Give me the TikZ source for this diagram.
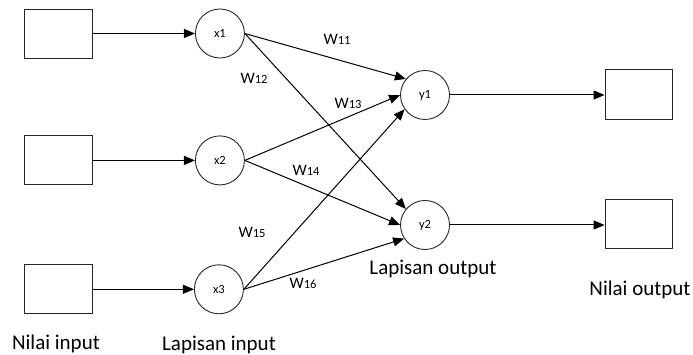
\documentclass[tikz,border=0pt]{standalone}
\usepackage{fontspec}
\setmainfont{Carlito}
\usepackage{tikz}
\usetikzlibrary{arrows.meta,positioning}
\tikzset{
  valbox/.style={draw=black!85,line width=0.9pt,minimum width=68pt,minimum height=49pt,inner sep=0pt},
  neuron/.style={draw=black!85,line width=0.9pt,circle,minimum size=49pt,inner sep=0pt,font=\fontsize{12.5}{13}\selectfont},
  wire/.style={-{Triangle[length=11pt,width=9pt]},line width=1pt},
  wlabel/.style={inner sep=0pt},
  layertext/.style={font=\fontsize{21}{24}\selectfont,inner sep=0pt,anchor=base}
}
\newcommand{\wlab}[1]{{\fontsize{16}{16}\selectfont W}{\fontsize{12.5}{13}\selectfont #1}}

\begin{document}
\begin{tikzpicture}[x=1pt,y=1pt]
  \useasboundingbox (0,0) rectangle (693,-355);

  % --- Input values and input layer ---
  \node[valbox] (in1) at (58,-33.5) {};
  \node[valbox,below=77pt of in1] (in2) {};
  \node[valbox,below=79pt of in2] (in3) {};

  \node[neuron,right=102.5pt of in1] (x1) {x1};
  \node[neuron,right=102.5pt of in2] (x2) {x2};
  \node[neuron,right=101.5pt of in3] (x3) {x3};

  % --- Output layer and output values ---
  \node[neuron] (y1) at (425,-95) {y1};
  \node[neuron] (y2) at (425,-225) {y2};

  \node[valbox,minimum width=67pt,minimum height=50pt] (out1) at (638.5,-94) {};
  \node[valbox,minimum width=67pt,minimum height=49pt] (out2) at (638.5,-223.5) {};

  % --- Inputs into the first layer ---
  \draw[wire] (in1) -- (x1);
  \draw[wire] (in2) -- (x2);
  \draw[wire] (in3) -- (x3);

  % --- Weighted connections ---
  \draw[wire] (x1.east) -- (y1.140);
  \draw[wire] (x1.east) -- (y2.140);
  \draw[wire] (x2.east) -- (y1.180);
  \draw[wire] (x2.east) -- (y2.180);
  \draw[wire] (x3.east) -- (y1.215);
  \draw[wire] (x3.east) -- (y2.213);

  % --- Outputs ---
  \draw[wire] (y1) -- (y1 -| out1.west);
  \draw[wire] (y2) -- (y2 -| out2.west);

  % --- Weight labels ---
  \node[wlabel] (w11) at (337,-39) {\wlab{11}};
  \node[wlabel] (w12) at (254,-78) {\wlab{12}};
  \node[wlabel] (w13) at (348,-103) {\wlab{13}};
  \node[wlabel] (w14) at (306,-170) {\wlab{14}};
  \node[wlabel] (w15) at (252,-232) {\wlab{15}};
  \node[wlabel] (w16) at (303,-283) {\wlab{16}};

  % --- Captions ---
  \node[layertext] (capin) at (56,-349) {Nilai input};
  \node[layertext] (caplin) at (219,-350) {Lapisan input};
  \node[layertext] (caplout) at (433,-274) {Lapisan output};
  \node[layertext] (capout) at (640,-295) {Nilai output};

\end{tikzpicture}
\end{document}
